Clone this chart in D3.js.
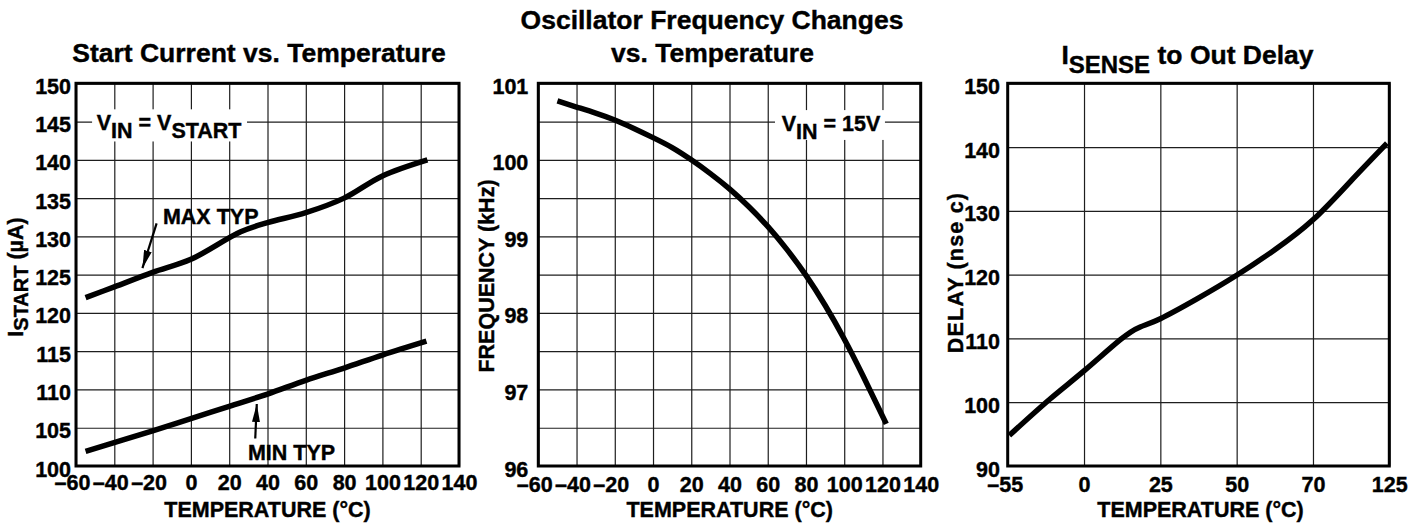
<!DOCTYPE html>
<html><head><meta charset="utf-8">
<script src="https://cdn.jsdelivr.net/npm/d3@7"></script>
<style>
body{margin:0;background:#fff}
svg text{font-family:"Liberation Sans",Arial,Helvetica,sans-serif;font-weight:bold;fill:#000;stroke:#000;stroke-width:0.4px}
</style>
</head><body>
<svg id="c" width="1426" height="525"></svg>
<script>
// ---------------- DATA ----------------
// Panel 1: Start Current vs. Temperature
const startXTicks = [-60,-40,-20,0,20,40,60,80,100,120,140];
const startYTicks = [100,105,110,115,120,125,130,135,140,145,150];
const startMaxT = [-55,-40,-20,0,26,40,60,80,100,123.5];
const startMaxV = [122,123.4,125.3,127,130.6,131.8,133.1,135,137.9,140];
const startMinT = [-55,-20,0,20,40,60,80,100,123];
const startMinV = [101.9,104.6,106.2,107.8,109.4,111.2,112.8,114.5,116.3];

// Panel 2: Oscillator Frequency Changes vs. Temperature
const oscXTicks = [-60,-40,-20,0,20,40,60,80,100,120,140];
const oscYGrid = [96,96.5,97,97.5,98,98.5,99,99.5,100,100.5,101];
const oscYLabels = [96,97,98,99,100,101];
const oscT = [-50,-40,-30,-20,-10,0,10,20,30,40,50,60,70,80,90,100,110,122];
const oscV = [100.77,100.69,100.61,100.52,100.41,100.29,100.16,100.0,99.82,99.62,99.39,99.13,98.83,98.49,98.1,97.66,97.17,96.55];

// Panel 3: ISENSE to Out Delay
const delayXTicks = [-55,0,25,50,70,125];
const delayYTicks = [90,100,110,120,130,140,150];
const delayT = [-53.8,-24.5,0,11.9,18.4,25,37,50,60,70,96.9,123.3];
const delayV = [94.8,100.5,104.9,109.8,111.8,113.1,116.2,119.9,123.9,128.6,134.6,140.6];

// ---------------- DRAW ----------------
const svg = d3.select("#c");
const FONT = '"Liberation Sans", Arial, Helvetica, sans-serif';
const TICK_FS = 21.5, TITLE_FS = 26.5, AX_FS = 21.5;
const fmt = d => d < 0 ? "\u2013" + Math.abs(d) : String(d);

const defs = svg.append("defs");
defs.append("marker").attr("id","arr").attr("viewBox","0 0 10 10")
  .attr("refX",10).attr("refY",5).attr("markerUnits","userSpaceOnUse")
  .attr("markerWidth",18).attr("markerHeight",8).attr("preserveAspectRatio","none")
  .attr("orient","auto")
  .append("path").attr("d","M0,0L10,5L0,10z").attr("fill","#000");

function panel(o) {
  const g = svg.append("g");
  const xr0 = o.x.range();
  const [xl, xr] = [xr0[0], xr0[xr0.length - 1]];
  const [yb, yt] = o.y.range();

  const gx = g.append("g").attr("transform", `translate(0,${yb})`)
    .call(d3.axisBottom(o.x).tickValues(o.xTicks).tickSize(-(yb - yt)).tickPadding(0).tickFormat(fmt));
  gx.select(".domain").remove();
  gx.attr("font-family", FONT).attr("font-size", TICK_FS);
  gx.selectAll(".tick line").attr("stroke", "#1e1e1e").attr("stroke-width", 1.2);
  gx.selectAll(".tick text").attr("y", o.xLabelBase - yb).attr("dy", 0)
    .attr("dx", d => d < 0 ? o.negShift : 0).attr("font-weight", "bold").attr("fill", "#000");

  const gy = g.append("g").attr("transform", `translate(${xl},0)`)
    .call(d3.axisLeft(o.y).tickValues(o.yGrid).tickSize(-(xr - xl)).tickPadding(o.yPad)
      .tickFormat(d => o.yLabels.includes(d) ? fmt(d) : ""));
  gy.select(".domain").remove();
  gy.attr("font-family", FONT).attr("font-size", TICK_FS);
  gy.selectAll(".tick line").attr("stroke", "#1e1e1e").attr("stroke-width", 1.2);
  gy.selectAll(".tick text").attr("dy", 10).attr("font-weight", "bold").attr("fill", "#000");

  (o.boxes || []).forEach(b => {
    g.append("rect").attr("x", o.x(b[0])).attr("y", o.y(b[3]))
      .attr("width", o.x(b[1]) - o.x(b[0])).attr("height", o.y(b[2]) - o.y(b[3]))
      .attr("fill", "#fff");
  });

  g.append("rect").attr("x", xl).attr("y", yt).attr("width", xr - xl).attr("height", yb - yt)
    .attr("fill", "none").attr("stroke", "#000").attr("stroke-width", 3);

  o.series.forEach(s => {
    const line = d3.line().x(d => o.x(d[0])).y(d => o.y(d[1])).curve(s[2] || d3.curveMonotoneX);
    g.append("path").attr("d", line(d3.zip(s[0], s[1])))
      .attr("fill", "none").attr("stroke", "#000").attr("stroke-width", 5.5)
      .attr("stroke-linecap", "butt").attr("stroke-linejoin", "round");
  });
  return g;
}

function rich(g, x, y, parts, anchor, transform) {
  const t = g.append("text").attr("text-anchor", anchor || "start");
  if (transform) t.attr("transform", transform); else t.attr("x", x).attr("y", y);
  parts.forEach(p => {
    const ts = t.append("tspan").text(p[0]).attr("font-size", p[1]);
    if (p[2]) ts.attr("dy", p[2]);
  });
  return t;
}

// ---- Panel 1
const x1 = d3.scaleLinear().domain([-60, 140]).range([76, 459]);
const y1 = d3.scaleLinear().domain([100, 150]).range([466, 83.3]);
const g1 = panel({x: x1, y: y1, xTicks: startXTicks, yGrid: startYTicks, yLabels: startYTicks,
  yPad: 5, xLabelBase: 490, negShift: -4,
  boxes: [[-51.6, 29.3, 142.4, 146.6]],
  series: [[startMaxT, startMaxV, d3.curveCatmullRom.alpha(0.5)], [startMinT, startMinV, d3.curveCatmullRom.alpha(0.5)]]});
g1.append("text").attr("x", 259).attr("y", 62).attr("text-anchor", "middle")
  .attr("font-size", TITLE_FS).text("Start Current vs. Temperature");
g1.append("text").attr("x", 267.5).attr("y", 517).attr("text-anchor", "middle")
  .attr("font-size", AX_FS).text("TEMPERATURE (\u00B0C)");
rich(g1, 0, 0, [["I", AX_FS], ["START", 20, 5], [" (\u00B5A)", AX_FS, -5]], "middle",
  "translate(23,277) rotate(-90)");
rich(g1, x1(-49.2), y1(143.9), [["V", 21.5], ["IN", 21.5, 8], [" = ", 21.5, -8], ["V", 21.5], ["START", 21.5, 8]]);
g1.append("text").attr("x", x1(-14.6)).attr("y", y1(131.6)).attr("font-size", 21.5).text("MAX TYP");
g1.append("text").attr("x", x1(29.8)).attr("y", y1(100.8)).attr("font-size", 21.5).text("MIN TYP");
[[[-17.9, 131.7], [-25.3, 125.85]], [[33.6, 103.6], [34.4, 108.1]]].forEach(a => {
  g1.append("line").attr("x1", x1(a[0][0])).attr("y1", y1(a[0][1]))
    .attr("x2", x1(a[1][0])).attr("y2", y1(a[1][1]))
    .attr("stroke", "#000").attr("stroke-width", 2.2).attr("marker-end", "url(#arr)");
});

// ---- Panel 2
const x2 = d3.scaleLinear().domain([-60, 140]).range([538.3, 920.7]);
const y2 = d3.scaleLinear().domain([96, 101]).range([466, 83.3]);
const g2 = panel({x: x2, y: y2, xTicks: oscXTicks, yGrid: oscYGrid, yLabels: oscYLabels,
  yPad: 10, xLabelBase: 492, negShift: -4,
  boxes: [[63.8, 121.3, 100.26, 100.65]],
  series: [[oscT, oscV, d3.curveNatural]]});
g2.append("text").attr("x", 712).attr("y", 29).attr("text-anchor", "middle")
  .attr("font-size", TITLE_FS).text("Oscillator Frequency Changes");
g2.append("text").attr("x", 712.5).attr("y", 62).attr("text-anchor", "middle")
  .attr("font-size", TITLE_FS).text("vs. Temperature");
g2.append("text").attr("x", 729.7).attr("y", 517).attr("text-anchor", "middle")
  .attr("font-size", AX_FS).text("TEMPERATURE (\u00B0C)");
g2.append("text").attr("transform", "translate(494,276) rotate(-90)").attr("text-anchor", "middle")
  .attr("font-size", AX_FS).text("FREQUENCY (kHz)");
rich(g2, x2(67.3), y2(100.38), [["V", 21.5], ["IN", 21.5, 8], [" = 15V", 21.5, -8]]);

// ---- Panel 3
const d3x0 = 1007.7, d3x1 = 1389.3;
const x3 = d3.scaleLinear().domain(delayXTicks)
  .range(delayXTicks.map((d, i) => d3x0 + i * (d3x1 - d3x0) / (delayXTicks.length - 1)));
const y3 = d3.scaleLinear().domain([90, 150]).range([466, 83.3]);
const g3 = panel({x: x3, y: y3, xTicks: delayXTicks, yGrid: delayYTicks, yLabels: delayYTicks,
  yPad: 7.7, xLabelBase: 492, negShift: -3,
  series: [[delayT, delayV, d3.curveNatural]]});
rich(g3, 1187.5, 64, [["I", TITLE_FS], ["SENSE", 24, 9], [" to Out Delay", TITLE_FS, -9]], "middle");
g3.append("text").attr("x", 1200.5).attr("y", 517).attr("text-anchor", "middle")
  .attr("font-size", AX_FS).text("TEMPERATURE (\u00B0C)");
g3.append("text").attr("transform", "translate(963,272.5) rotate(-90)").attr("text-anchor", "middle")
  .attr("font-size", AX_FS).attr("letter-spacing", 1.2).text("DELAY (nse c)");
</script>
</body></html>
